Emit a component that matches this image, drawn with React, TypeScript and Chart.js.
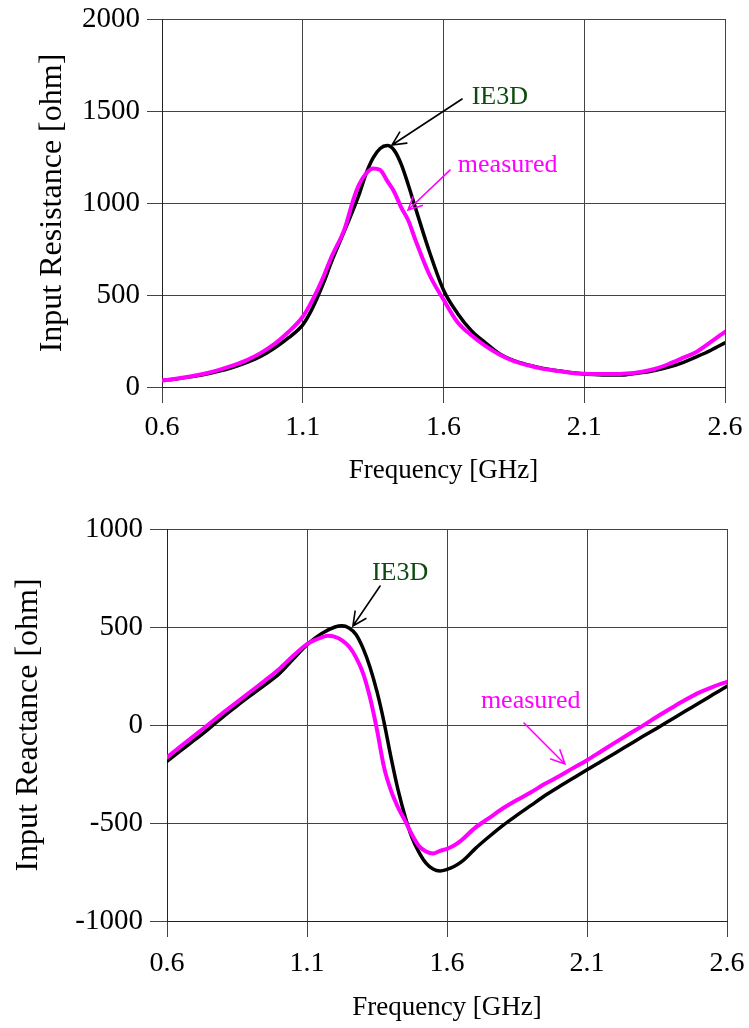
import React, { useEffect, useRef } from 'react';
import { Chart, registerables } from 'chart.js';

Chart.register(...registerables);

const FONT = '"Liberation Serif", "Times New Roman", serif';

// ---- Tick labels ----
const freqTicks = [0.6, 1.1, 1.6, 2.1, 2.6];
const resistanceTicks = [0, 500, 1000, 1500, 2000];
const reactanceTicks = [-1000, -500, 0, 500, 1000];

// ---- Input resistance (top) ----
const resIE3DFreq = [0.6, 0.65, 0.7, 0.75, 0.8, 0.85, 0.9, 0.95, 1.0, 1.05, 1.1, 1.125, 1.15, 1.175, 1.2, 1.25, 1.3, 1.325, 1.35, 1.375, 1.4, 1.425, 1.45, 1.475, 1.5, 1.55, 1.6, 1.65, 1.7, 1.75, 1.8, 1.85, 1.9, 1.95, 2.0, 2.05, 2.1, 2.15, 2.2, 2.25, 2.3, 2.35, 2.4, 2.45, 2.5, 2.55, 2.6];
const resIE3D = [35, 44, 55, 68, 85, 106, 132, 166, 212, 268, 338, 400, 480, 570, 672, 855, 1045, 1160, 1245, 1296, 1312, 1286, 1210, 1098, 975, 735, 527, 400, 305, 239, 180, 143, 120, 102, 90, 79, 71, 67, 65, 67, 77, 90, 108, 133, 165, 200, 240];

const resMeasFreq = [0.6, 0.65, 0.7, 0.75, 0.8, 0.85, 0.9, 0.95, 1.0, 1.05, 1.1, 1.125, 1.15, 1.175, 1.2, 1.25, 1.28, 1.3, 1.325, 1.35, 1.375, 1.4, 1.425, 1.45, 1.475, 1.5, 1.55, 1.6, 1.65, 1.7, 1.75, 1.8, 1.85, 1.9, 1.95, 2.0, 2.05, 2.1, 2.15, 2.2, 2.25, 2.3, 2.35, 2.4, 2.45, 2.5, 2.55, 2.6];
const resMeas = [35, 45, 57, 72, 92, 116, 145, 184, 234, 300, 382, 445, 520, 605, 700, 865, 1020, 1100, 1160, 1188, 1180, 1120, 1060, 975, 905, 800, 610, 475, 352, 280, 222, 175, 140, 118, 100, 88, 78, 72, 70, 70, 73, 82, 98, 125, 158, 192, 245, 300];

// ---- Input reactance (bottom) ----
const reaIE3DFreq = [0.6, 0.65, 0.7, 0.75, 0.8, 0.85, 0.9, 0.95, 1.0, 1.05, 1.1, 1.15, 1.2, 1.225, 1.25, 1.275, 1.3, 1.325, 1.35, 1.375, 1.4, 1.425, 1.45, 1.475, 1.5, 1.525, 1.55, 1.575, 1.6, 1.625, 1.65, 1.675, 1.7, 1.75, 1.8, 1.85, 1.9, 1.95, 2.0, 2.05, 2.1, 2.15, 2.2, 2.25, 2.3, 2.35, 2.4, 2.45, 2.5, 2.55, 2.6];
const reaIE3D = [-185, -130, -75, -18, 42, 98, 152, 205, 260, 335, 410, 465, 500, 506, 495, 462, 392, 295, 170, 15, -165, -330, -465, -575, -650, -705, -735, -745, -737, -722, -700, -668, -632, -570, -512, -460, -410, -360, -315, -272, -228, -186, -144, -101, -58, -16, 27, 70, 112, 155, 198];

const reaMeasFreq = [0.6, 0.65, 0.7, 0.75, 0.8, 0.85, 0.9, 0.95, 1.0, 1.05, 1.1, 1.15, 1.175, 1.2, 1.225, 1.25, 1.275, 1.3, 1.325, 1.35, 1.375, 1.4, 1.425, 1.45, 1.475, 1.5, 1.525, 1.55, 1.575, 1.6, 1.625, 1.65, 1.7, 1.75, 1.8, 1.85, 1.9, 1.95, 2.0, 2.05, 2.1, 2.15, 2.2, 2.25, 2.3, 2.35, 2.4, 2.45, 2.5, 2.55, 2.6];
const reaMeas = [-165, -108, -52, 5, 62, 117, 172, 227, 285, 352, 413, 446, 455, 450, 432, 400, 345, 265, 140, -25, -215, -335, -420, -488, -560, -618, -645, -655, -642, -632, -615, -590, -525, -475, -425, -383, -343, -300, -262, -220, -180, -135, -90, -46, -3, 42, 85, 127, 165, 195, 220];

// ---- Annotations (data coordinates) ----
type Note = { text: string; color: string; x: number; y: number };
type Arrow = { color: string; x0: number; y0: number; x1: number; y1: number };

const resNotes: Note[] = [
  { text: 'IE3D', color: '#0d4a0d', x: 1.70, y: 1576 },
  { text: 'measured', color: '#ff00ff', x: 1.651, y: 1207 },
];
const resArrows: Arrow[] = [
  { color: '#000000', x0: 1.666, y0: 1565, x1: 1.417, y1: 1315 },
  { color: '#ff00ff', x0: 1.623, y0: 1179, x1: 1.474, y1: 962 },
];
const reaNotes: Note[] = [
  { text: 'IE3D', color: '#0d4a0d', x: 1.332, y: 776 },
  { text: 'measured', color: '#ff00ff', x: 1.721, y: 122 },
];
const reaArrows: Arrow[] = [
  { color: '#000000', x0: 1.361, y0: 709, x1: 1.264, y1: 505 },
  { color: '#ff00ff', x0: 1.875, y0: 10, x1: 2.021, y1: -199 },
];

type Series = { label: string; freq: number[]; values: number[]; color: string; width: number };

type Panel = {
  canvasTop: number;
  height: number;
  padTop: number;
  padRight: number;
  yWidth: number;
  xHeight: number;
  yTickLen: number;
  yTickPad: number;
  xTickPad: number;
  yTitle: string;
  yTitlePad: number;
  xTitlePad: number;
  yMin: number;
  yMax: number;
  yTicks: number[];
  series: Series[];
  notes: Note[];
  arrows: Arrow[];
};

const notesPlugin = {
  id: 'notes',
  afterDatasetsDraw(chart: any, _args: any, opts: any) {
    const { ctx, scales } = chart;
    const xs = scales.x;
    const ys = scales.y;
    ctx.save();
    (opts.arrows || []).forEach((a: Arrow) => {
      const px0 = xs.getPixelForValue(a.x0);
      const py0 = ys.getPixelForValue(a.y0);
      const px1 = xs.getPixelForValue(a.x1);
      const py1 = ys.getPixelForValue(a.y1);
      ctx.strokeStyle = a.color;
      ctx.lineWidth = 1.6;
      ctx.lineCap = 'round';
      ctx.beginPath();
      ctx.moveTo(px0, py0);
      ctx.lineTo(px1, py1);
      const ang = Math.atan2(py1 - py0, px1 - px0);
      const len = 15;
      const spread = 0.45;
      ctx.moveTo(px1 - len * Math.cos(ang - spread), py1 - len * Math.sin(ang - spread));
      ctx.lineTo(px1, py1);
      ctx.lineTo(px1 - len * Math.cos(ang + spread), py1 - len * Math.sin(ang + spread));
      ctx.stroke();
    });
    ctx.font = `26px ${FONT}`;
    ctx.textAlign = 'left';
    ctx.textBaseline = 'middle';
    (opts.notes || []).forEach((n: Note) => {
      ctx.fillStyle = n.color;
      ctx.fillText(n.text, xs.getPixelForValue(n.x), ys.getPixelForValue(n.y));
    });
    ctx.restore();
  },
};

function zeroPadding(s: any) {
  s.paddingTop = 0;
  s.paddingBottom = 0;
  s.paddingLeft = 0;
  s.paddingRight = 0;
}

function ChartPanel({ p }: { p: Panel }) {
  const ref = useRef<HTMLCanvasElement | null>(null);
  useEffect(() => {
    if (!ref.current) return;
    const gridColor = '#444444';
    const chart = new Chart(ref.current, {
      type: 'line',
      data: {
        datasets: p.series.map((s) => ({
          label: s.label,
          data: s.freq.map((f, i) => ({ x: f, y: s.values[i] })),
          borderColor: s.color,
          backgroundColor: s.color,
          borderWidth: s.width,
          pointRadius: 0,
          fill: false,
          cubicInterpolationMode: 'monotone',
          borderCapStyle: 'round',
          borderJoinStyle: 'round',
        })),
      },
      options: {
        animation: false,
        responsive: false,
        maintainAspectRatio: false,
        layout: { padding: { left: 0, right: p.padRight, top: p.padTop, bottom: 0 } },
        plugins: {
          legend: { display: false },
          tooltip: { enabled: false },
          notes: { notes: p.notes, arrows: p.arrows },
        } as any,
        scales: {
          x: {
            type: 'linear',
            min: 0.6,
            max: 2.6,
            afterBuildTicks: (s: any) => {
              s.ticks = freqTicks.map((v) => ({ value: v }));
            },
            afterFit: (s: any) => {
              s.height = p.xHeight;
              zeroPadding(s);
            },
            ticks: {
              font: { family: FONT, size: 28 },
              color: '#000',
              padding: p.xTickPad,
              maxRotation: 0,
              autoSkip: false,
              callback: (v: any) => Number(v).toFixed(1),
            },
            grid: { color: gridColor, lineWidth: 1, tickLength: 16, drawTicks: true },
            border: { color: '#222', width: 1 },
            title: {
              display: true,
              text: 'Frequency [GHz]',
              color: '#000',
              font: { family: FONT, size: 27 },
              padding: { top: 0, bottom: p.xTitlePad },
            },
          },
          y: {
            type: 'linear',
            min: p.yMin,
            max: p.yMax,
            afterBuildTicks: (s: any) => {
              s.ticks = p.yTicks.map((v) => ({ value: v }));
            },
            afterFit: (s: any) => {
              s.width = p.yWidth;
              zeroPadding(s);
            },
            ticks: {
              font: { family: FONT, size: 29 },
              color: '#000',
              padding: p.yTickPad,
              autoSkip: false,
              callback: (v: any) => String(v),
            },
            grid: { color: gridColor, lineWidth: 1, tickLength: p.yTickLen, drawTicks: true },
            border: { color: '#222', width: 1 },
            title: {
              display: true,
              text: p.yTitle,
              color: '#000',
              font: { family: FONT, size: 32 },
              padding: { top: p.yTitlePad, bottom: 0 },
            },
          },
        },
      } as any,
      plugins: [notesPlugin as any],
    });
    return () => chart.destroy();
  }, [p]);
  return (
    <canvas
      ref={ref}
      width={749}
      height={p.height}
      style={{ position: 'absolute', left: 0, top: p.canvasTop, width: 749, height: p.height }}
    />
  );
}

const topPanel: Panel = {
  canvasTop: 0,
  height: 500,
  padTop: 19,
  padRight: 24,
  yWidth: 162,
  xHeight: 113,
  yTickLen: 15,
  yTickPad: 7,
  xTickPad: 8,
  yTitle: 'Input Resistance [ohm]',
  yTitlePad: 33,
  xTitlePad: 13,
  yMin: 0,
  yMax: 2000,
  yTicks: resistanceTicks,
  series: [
    { label: 'measured', freq: resMeasFreq, values: resMeas, color: '#ff00ff', width: 4 },
    { label: 'IE3D', freq: resIE3DFreq, values: resIE3D, color: '#000000', width: 3.5 },
  ],
  notes: resNotes,
  arrows: resArrows,
};

const bottomPanel: Panel = {
  canvasTop: 500,
  height: 528,
  padTop: 29,
  padRight: 22,
  yWidth: 167,
  xHeight: 107,
  yTickLen: 17,
  yTickPad: 7,
  xTickPad: 10,
  yTitle: 'Input Reactance [ohm]',
  yTitlePad: 9,
  xTitlePad: 4,
  yMin: -1000,
  yMax: 1000,
  yTicks: reactanceTicks,
  series: [
    { label: 'measured', freq: reaMeasFreq, values: reaMeas, color: '#ff00ff', width: 4 },
    { label: 'IE3D', freq: reaIE3DFreq, values: reaIE3D, color: '#000000', width: 3.5 },
  ],
  notes: reaNotes,
  arrows: reaArrows,
};

export default function App() {
  return (
    <div style={{ position: 'absolute', left: 0, top: 0, width: 749, height: 1028, background: '#fff' }}>
      <ChartPanel p={topPanel} />
      <ChartPanel p={bottomPanel} />
    </div>
  );
}
